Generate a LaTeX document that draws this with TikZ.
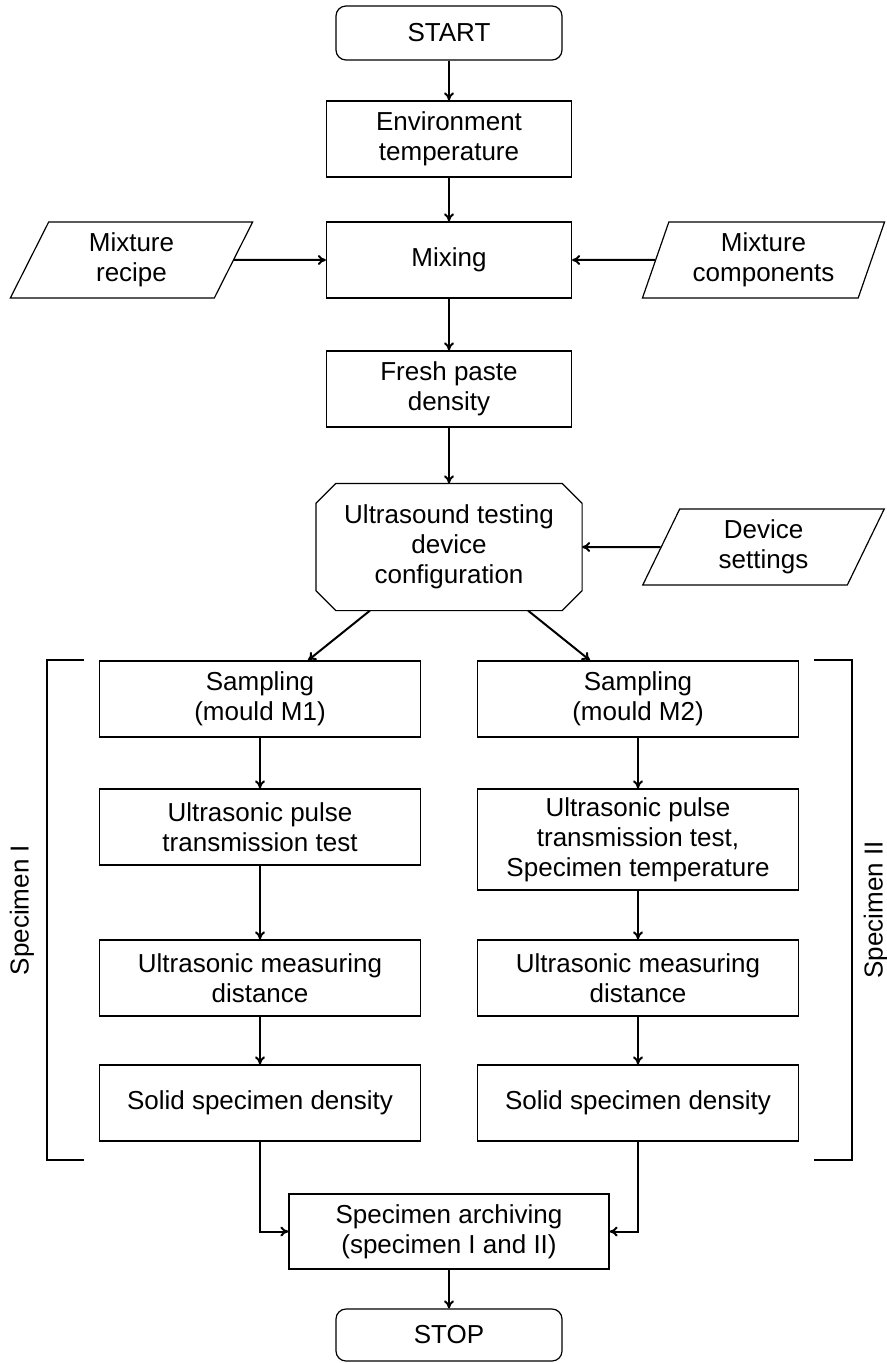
\documentclass[tikz,border=0pt]{standalone}
\usepackage{fontspec}
\setmainfont{Liberation Sans}
\usepackage{tikz}
\usetikzlibrary{positioning,shapes.geometric,arrows.meta}
\tikzset{
  flowbox/.style={draw, line width=0.6pt, align=center, inner sep=0pt, font=\fontsize{13}{15}\selectfont},
  termbox/.style={flowbox, rounded corners=5pt, minimum width=113pt, minimum height=27pt},
  procbox/.style={flowbox, minimum width=122.5pt, minimum height=38pt},
  colbox/.style={flowbox, minimum width=160.5pt, minimum height=38pt},
  inbox/.style={flowbox, trapezium, trapezium left angle=70, trapezium right angle=110, trapezium stretches=true, minimum width=121.5pt, minimum height=38pt},
  octbox/.style={flowbox, draw=none, minimum width=132.5pt, minimum height=63pt},
  flowarrow/.style={-{To[length=4pt,width=5pt]}, line width=1pt},
  sidelabel/.style={rotate=90, font=\fontsize{13}{15}\selectfont}
}
\begin{document}
\begin{tikzpicture}[x=0.5pt, y=-0.5pt]
        \useasboundingbox (0,0) rectangle (887,1363);
        % Main chain
        \node[termbox] (start) at (449,33) {START};
        \node[procbox] (envtemp) at (449,139) {Environment\\temperature};
        \node[procbox] (mixing) at (449,260) {Mixing};
        \node[inbox] (recipe) at (131.5,260) {Mixture\\recipe};
        \node[inbox] (components) at (763.5,260) {Mixture\\components};
        \node[procbox] (freshdens) at (449,389) {Fresh paste\\density};
        % Octagon drawn round the node, corners cut by 10pt
        \node[octbox] (config) at (449,547) {Ultrasound testing\\device\\configuration};
        \draw[line width=0.6pt] ([xshift=10pt]config.north west) -- ([xshift=-10pt]config.north east)
          -- ([yshift=-10pt]config.north east) -- ([yshift=10pt]config.south east)
          -- ([xshift=-10pt]config.south east) -- ([xshift=10pt]config.south west)
          -- ([yshift=10pt]config.south west) -- ([yshift=-10pt]config.north west) -- cycle;
        \node[inbox] (settings) at (763.5,547) {Device\\settings};
        % Specimen I column
        \node[colbox] (sampleA) at (260,699) {Sampling\\(mould M1)};
        \node[colbox] (pulseA) at (260,827) {Ultrasonic pulse\\transmission test};
        \node[colbox] (distA) at (260,978) {Ultrasonic measuring\\distance};
        \node[colbox] (solidA) at (260,1103) {Solid specimen density};
        % Specimen II column
        \node[colbox] (sampleB) at (638,699) {Sampling\\(mould M2)};
        \node[colbox, minimum height=50.5pt] (pulseB) at (638,839.5) {Ultrasonic pulse\\transmission test,\\Specimen temperature};
        \node[colbox] (distB) at (638,978) {Ultrasonic measuring\\distance};
        \node[colbox] (solidB) at (638,1103) {Solid specimen density};
        % End of the chain
        \node[colbox, minimum width=160pt, minimum height=37.5pt] (archive) at (449,1231.5) {Specimen archiving\\(specimen I and II)};
        \node[termbox, minimum height=26pt] (stop) at (449,1335) {STOP};
        % Brackets round the two columns
        \draw[line width=0.6pt] (84,660) -- (47,660) -- (47,1160) -- (84,1160);
        \draw[line width=0.6pt] (814,660) -- (852,660) -- (852,1160) -- (814,1160);
        \node[sidelabel] (specI) at (22,910) {Specimen I};
        \node[sidelabel] (specII) at (876,910) {Specimen II};
        % Arrows
        \draw[flowarrow] (start) -- (envtemp);
        \draw[flowarrow] (envtemp) -- (mixing);
        \draw[flowarrow] (recipe) -- (mixing);
        \draw[flowarrow] (components) -- (mixing);
        \draw[flowarrow] (mixing) -- (freshdens);
        \draw[flowarrow] (freshdens) -- (config);
        \draw[flowarrow] (settings) -- (config);
        \draw[flowarrow] (config) -- (sampleA);
        \draw[flowarrow] (config) -- (sampleB);
        \draw[flowarrow] (sampleA) -- (pulseA);
        \draw[flowarrow] (pulseA) -- (distA);
        \draw[flowarrow] (distA) -- (solidA);
        \draw[flowarrow] (sampleB) -- (pulseB);
        \draw[flowarrow] (pulseB) -- (distB);
        \draw[flowarrow] (distB) -- (solidB);
        \draw[flowarrow] (solidA) |- (archive);
        \draw[flowarrow] (solidB) |- (archive);
        \draw[flowarrow] (archive) -- (stop);
    \end{tikzpicture}
\end{document}
